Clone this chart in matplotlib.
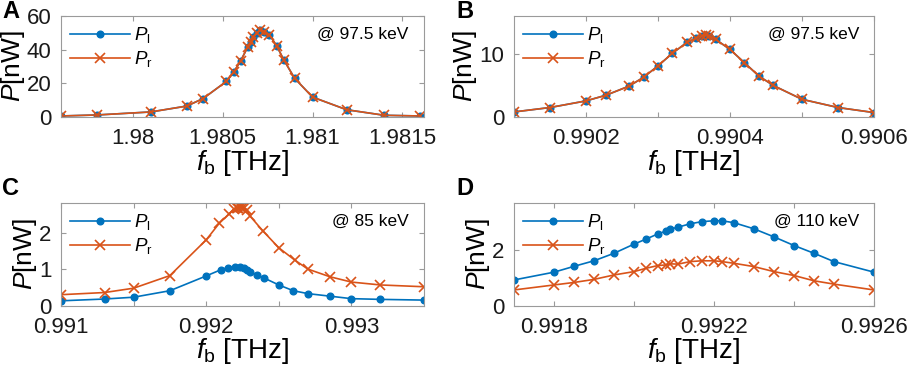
"""
[Description]
    Four panels of radiated power P versus beam frequency f_b,
    left (P_l) and right (P_r) channels, at three electron energies.
[Output]
    out.png (913 x 370 px)
"""

import matplotlib
matplotlib.use("Agg")
import matplotlib.pyplot as plt

# ---- Panel A: @ 97.5 keV (left and right overlap) ----
fb_a = [1.97960, 1.97980, 1.98010, 1.98030, 1.98039, 1.98052, 1.98056, 1.98060,
        1.98064, 1.98066, 1.98067, 1.98069, 1.98071, 1.98073, 1.98076, 1.98080,
        1.98084, 1.98090, 1.98100, 1.98119, 1.98140, 1.98160]
pl_a = [0.6, 1.2, 3.0, 6.5, 10.9, 21.1, 26.5, 33.4, 41.7, 44.7, 47.6, 50.1,
        51.6, 50.7, 48.8, 42.3, 33.9, 23.0, 11.8, 4.3, 1.0, 0.6]
pr_a = [0.6, 1.2, 3.0, 6.5, 10.9, 21.1, 26.5, 33.4, 41.7, 44.7, 47.6, 50.1,
        51.6, 50.7, 48.8, 42.3, 33.9, 23.0, 11.8, 4.3, 1.0, 0.6]

# ---- Panel B: @ 97.5 keV ----
fb_b = [0.99010, 0.99015, 0.99020, 0.990228, 0.99026, 0.99028, 0.99030, 0.99032,
        0.99034, 0.990353, 0.990361, 0.990366, 0.990371, 0.99038, 0.99040, 0.99042,
        0.99044, 0.99046, 0.99050, 0.99055, 0.99060]
pl_b = [0.8, 1.5, 2.55, 3.46, 4.9, 6.3, 8.1, 10.1, 11.8, 12.5, 12.9, 13.0,
        12.9, 12.3, 10.7, 8.6, 6.5, 5.0, 2.8, 1.5, 0.7]
pr_b = [0.8, 1.5, 2.55, 3.46, 4.9, 6.3, 8.1, 10.1, 11.8, 12.5, 12.9, 13.0,
        12.9, 12.3, 10.7, 8.6, 6.5, 5.0, 2.8, 1.5, 0.7]

# ---- Panel C: @ 85 keV ----
fb_c_l = [0.99100, 0.99130, 0.99150, 0.99175, 0.99200, 0.99210, 0.99215, 0.99220,
          0.99223, 0.99226, 0.99228, 0.99230, 0.99235, 0.99240, 0.99250, 0.99260,
          0.99270, 0.99285, 0.99300, 0.99320, 0.99350]
pl_c = [0.13, 0.18, 0.23, 0.41, 0.82, 0.99, 1.05, 1.08, 1.07, 1.03, 0.99, 0.94,
        0.85, 0.76, 0.57, 0.41, 0.33, 0.26, 0.19, 0.17, 0.15]
fb_c_r = [0.99100, 0.99130, 0.99150, 0.99175, 0.99200, 0.99209, 0.99216, 0.99219,
          0.99221, 0.99222, 0.99223, 0.99224, 0.99225, 0.99226, 0.99228, 0.99230,
          0.99239, 0.99250, 0.99261, 0.99270, 0.99285, 0.99300, 0.99320, 0.99350]
pr_c = [0.30, 0.36, 0.48, 0.83, 1.82, 2.28, 2.55, 2.67, 2.70, 2.71, 2.72, 2.72,
        2.71, 2.70, 2.66, 2.49, 2.07, 1.60, 1.26, 1.01, 0.80, 0.65, 0.57, 0.52]

# ---- Panel D: @ 110 keV ----
fb_d = [0.99170, 0.99180, 0.99185, 0.99190, 0.99195, 0.99200, 0.99203, 0.99206,
        0.99208, 0.99209, 0.99211, 0.99214, 0.99217, 0.99220, 0.99222, 0.99225,
        0.99230, 0.99235, 0.99240, 0.99245, 0.99250, 0.99260]
pl_d = [0.92, 1.20, 1.41, 1.61, 1.88, 2.21, 2.39, 2.58, 2.68, 2.75, 2.82, 2.94,
        3.02, 3.05, 3.05, 2.98, 2.76, 2.47, 2.16, 1.88, 1.58, 1.20]
pr_d = [0.56, 0.74, 0.83, 0.94, 1.10, 1.22, 1.34, 1.44, 1.46, 1.50, 1.49, 1.58,
        1.61, 1.61, 1.58, 1.52, 1.40, 1.22, 1.08, 0.89, 0.77, 0.56]

# ticks (labels left empty where the reference shows a bare tick)
xticks_a = [1.98, 1.9805, 1.981, 1.9815]
xlabels_a = ['1.98', '1.9805', '1.981', '1.9815']
xticks_b = [0.9902, 0.9903, 0.9904, 0.9905, 0.9906]
xlabels_b = ['0.9902', '', '0.9904', '', '0.9906']
xticks_c = [0.991, 0.9915, 0.992, 0.9925, 0.993]
xlabels_c = ['0.991', '', '0.992', '', '0.993']
xticks_d = [0.9918, 0.992, 0.9922, 0.9924, 0.9926]
xlabels_d = ['0.9918', '', '0.9922', '', '0.9926']

BLUE = '#0072BD'
ORANGE = '#D95319'
AXCOL = '#9a9a9a'

plt.rcParams['font.family'] = ['Liberation Sans', 'DejaVu Sans']
plt.rcParams['mathtext.fontset'] = 'custom'
plt.rcParams['mathtext.rm'] = 'Liberation Sans'
plt.rcParams['mathtext.it'] = 'Liberation Sans:italic'


def plot_panel(ax, fb_l, p_l, fb_r, p_r, xlim, ylim, xticks, xlabels, yticks, energy):
    """
    [Brief]
        Draws one P(f_b) panel with both channels, legend and energy tag.
    """
    ax.plot(fb_l, p_l, '-o', color=BLUE, lw=1.2, ms=4.8, label=r'$P_{\mathrm{l}}$')
    ax.plot(fb_r, p_r, '-x', color=ORANGE, lw=1.2, ms=6.5, mew=1.2,
            label=r'$P_{\mathrm{r}}$')

    ax.set_xlim(xlim)
    ax.set_ylim(ylim)
    ax.set_xticks(xticks)
    ax.set_xticklabels(xlabels)
    ax.set_yticks(yticks)

    # MATLAB-like box: ticks inside on all four sides
    for s in ax.spines.values():
        s.set_color(AXCOL)
        s.set_linewidth(0.8)
    ax.tick_params(direction='in', top=True, right=True, length=3.5, width=0.8,
                   color=AXCOL, labelsize=16, labelcolor='#1a1a1a')
    ax.tick_params(axis='x', pad=8)
    ax.tick_params(axis='y', pad=7)

    ax.set_xlabel(r'$f_{\mathrm{b}}$ [THz]', fontsize=20, labelpad=-1)
    ax.set_ylabel(r'$P$[nW]', fontsize=19, labelpad=0)

    ax.legend(loc='upper left', frameon=False, fontsize=13.5, handlelength=3.2,
              handletextpad=0.2, labelspacing=0.22, borderaxespad=0.35,
              borderpad=0.15)
    ax.text(0.958, 0.82, '@ ' + energy, transform=ax.transAxes, ha='right',
            va='center', fontsize=12.5)


fig = plt.figure(figsize=(9.13, 3.70), dpi=100)

ax_a = fig.add_axes([0.0668, 0.6838, 0.3976, 0.2730])
ax_b = fig.add_axes([0.5630, 0.6838, 0.3943, 0.2730])
ax_c = fig.add_axes([0.0668, 0.1743, 0.3976, 0.2778])
ax_d = fig.add_axes([0.5630, 0.1743, 0.3943, 0.2778])

plot_panel(ax_a, fb_a, pl_a, fb_a, pr_a, (1.9796, 1.98162), (0, 60),
           xticks_a, xlabels_a, [0, 20, 40, 60], '97.5 keV')
plot_panel(ax_b, fb_b, pl_b, fb_b, pr_b, (0.9901, 0.9906), (0, 16),
           xticks_b, xlabels_b, [0, 10], '97.5 keV')
plot_panel(ax_c, fb_c_l, pl_c, fb_c_r, pr_c, (0.991, 0.9935), (0, 2.85),
           xticks_c, xlabels_c, [0, 1, 2], '85 keV')
plot_panel(ax_d, fb_d, pl_d, fb_d, pr_d, (0.9917, 0.9926), (0, 3.7),
           xticks_d, xlabels_d, [0, 2], '110 keV')

# panel letters
for lab, x, y in [('A', 2, 18), ('B', 456, 18), ('C', 2, 195), ('D', 456, 195)]:
    fig.text(x / 913, 1 - y / 370, lab, fontsize=17, fontweight='bold',
             va='baseline', ha='left')

fig.savefig('out.png', dpi=100)
